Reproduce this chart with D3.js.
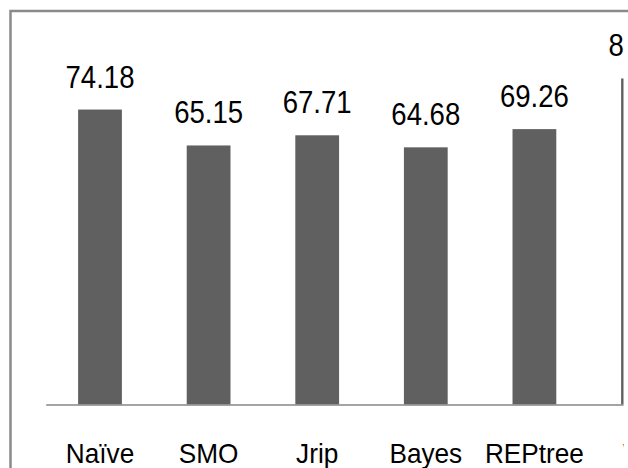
<!DOCTYPE html>
<html>
<head>
<meta charset="utf-8">
<script src="https://cdn.jsdelivr.net/npm/d3@7"></script>
<style>
  html, body { margin: 0; padding: 0; background: #fff; overflow: hidden; }
  svg { display: block; }
  text { font-family: "Liberation Sans", Arial, sans-serif; fill: #000; }
</style>
</head>
<body>
<script>
// Classifier accuracy (%)
const categories = ["Naïve", "SMO", "Jrip", "Bayes", "REPtree", "VFI"];
const values = [74.18, 65.15, 67.71, 64.68, 69.26, 82.00];
const valueLabels = ["74.18", "65.15", "67.71", "64.68", "69.26", "82.00"];

const W = 628, H = 468;
const svg = d3.select("body").append("svg").attr("width", W).attr("height", H);

// Plot geometry
const baseY = 404.5;
const x = d3.scaleBand().domain(categories).range([45.7, 45.7 + 108.6 * categories.length]).padding(0);
const y = d3.scaleLinear().domain([0, 100]).range([baseY, baseY - 397.6]);
const barW = x.bandwidth() * 0.403;

// Chart area frame (runs past the right and bottom edges)
svg.append("rect")
  .attr("x", 10.5).attr("y", 11)
  .attr("width", 700).attr("height", 500)
  .attr("fill", "none")
  .attr("stroke", "#8a8a8a")
  .attr("stroke-width", 2.5);

// Everything inside the chart is cut off just before the right edge
svg.append("clipPath").attr("id", "plotClip")
  .append("rect").attr("x", 0).attr("y", 0).attr("width", 623.5).attr("height", H);

const plot = svg.append("g").attr("clip-path", "url(#plotClip)");

plot.selectAll("rect.bar")
  .data(values)
  .join("rect")
  .attr("class", "bar")
  .attr("x", (d, i) => x(categories[i]) + (x.bandwidth() - barW) / 2)
  .attr("y", d => y(d))
  .attr("width", barW)
  .attr("height", d => baseY - y(d))
  .attr("fill", "#606060");

// Category axis
const axis = plot.append("g")
  .attr("transform", `translate(0,${baseY})`)
  .call(d3.axisBottom(x).tickSize(0).tickFormat(""));
axis.select(".domain").attr("stroke", "#868686").attr("stroke-width", 1.6);

// Value labels
plot.selectAll("text.val")
  .data(values)
  .join("text")
  .attr("class", "val")
  .attr("text-anchor", "middle")
  .attr("font-size", 29)
  .attr("transform", (d, i) => {
    const cx = x(categories[i]) + x.bandwidth() / 2;
    return `translate(${cx},${y(d) - 22}) scale(0.95,1.05)`;
  })
  .text((d, i) => valueLabels[i]);

// Category labels
plot.selectAll("text.cat")
  .data(categories)
  .join("text")
  .attr("class", "cat")
  .attr("text-anchor", "middle")
  .attr("font-size", 27)
  .attr("transform", d => `translate(${x(d) + x.bandwidth() / 2},462.5) scale(0.97,1.05)`)
  .text(d => d);
</script>
</body>
</html>
